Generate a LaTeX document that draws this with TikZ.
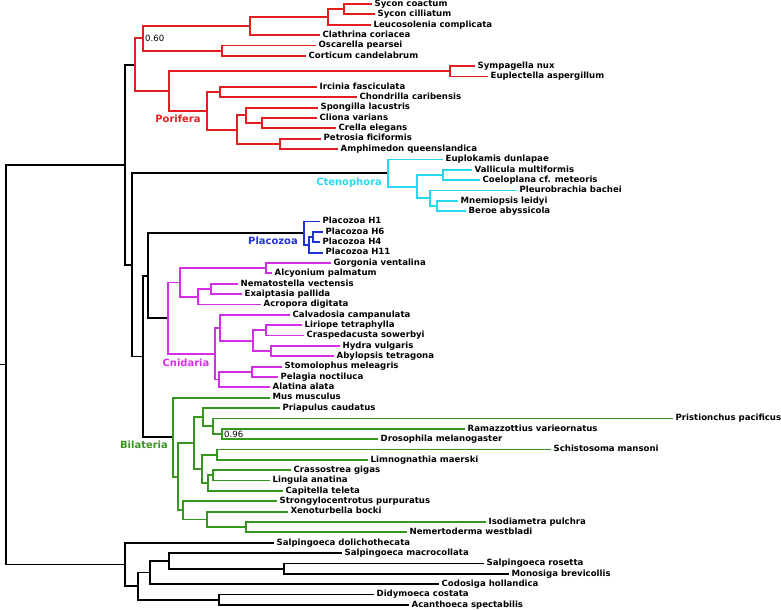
\documentclass[tikz,border=0pt]{standalone}
\usepackage{fontspec}
\setmainfont{DejaVu Sans}
\usepackage{tikz}
\definecolor{cPor}{RGB}{228,30,30}
\definecolor{cCte}{RGB}{40,215,240}
\definecolor{cPla}{RGB}{30,50,215}
\definecolor{cCni}{RGB}{215,45,235}
\definecolor{cBil}{RGB}{55,150,30}
\tikzset{
  br/.style={line width=1.8bp},
  leaf/.style={anchor=west, inner xsep=2.5pt, inner ysep=0pt, text height=6.2pt, text depth=1.6pt,
    font=\fontsize{8.6}{9}\selectfont\bfseries},
  clade/.style={inner sep=0pt, font=\fontsize{10}{12}\selectfont\bfseries},
  supp/.style={anchor=west, inner xsep=2pt, inner ysep=0pt, font=\fontsize{8.6}{9}\selectfont}
}

\begin{document}
\begin{tikzpicture}[x=1bp, y=-10.36bp]

  \useasboundingbox (0,-0.386) rectangle (781,58.49);

  %% leaves, one row each
  \node[leaf] (sycCoa) at (372,0) {Sycon coactum};
  \node[leaf] (sycCil) at (375,1) {Sycon cilliatum};
  \node[leaf] (leuCom) at (371,2) {Leucosolenia complicata};
  \node[leaf] (claCor) at (320,3) {Clathrina coriacea};
  \node[leaf] (oscPea) at (316,4) {Oscarella pearsei};
  \node[leaf] (corCan) at (306,5) {Corticum candelabrum};
  \node[leaf] (symNux) at (475,6) {Sympagella nux};
  \node[leaf] (eupAsp) at (488,7) {Euplectella aspergillum};
  \node[leaf] (ircFas) at (317,8) {Ircinia fasciculata};
  \node[leaf] (choCar) at (357,9) {Chondrilla caribensis};
  \node[leaf] (spoLac) at (318,10) {Spongilla lacustris};
  \node[leaf] (cliVar) at (317,11) {Cliona varians};
  \node[leaf] (creEle) at (336,12) {Crella elegans};
  \node[leaf] (petFic) at (321,13) {Petrosia ficiformis};
  \node[leaf] (ampQue) at (338,14) {Amphimedon queenslandica};
  \node[leaf] (eupDun) at (443,15) {Euplokamis dunlapae};
  \node[leaf] (valMul) at (472,16) {Vallicula multiformis};
  \node[leaf] (coeMet) at (480,17) {Coeloplana cf. meteoris};
  \node[leaf] (pleBac) at (517,18) {Pleurobrachia bachei};
  \node[leaf] (mneLei) at (458,19) {Mnemiopsis leidyi};
  \node[leaf] (berAby) at (466,20) {Beroe abyssicola};
  \node[leaf] (plaHa) at (320,21) {Placozoa H1};
  \node[leaf] (plaHb) at (323,22) {Placozoa H6};
  \node[leaf] (plaHc) at (320,23) {Placozoa H4};
  \node[leaf] (plaHd) at (323,24) {Placozoa H11};
  \node[leaf] (gorVen) at (331,25) {Gorgonia ventalina};
  \node[leaf] (alcPal) at (272,26) {Alcyonium palmatum};
  \node[leaf] (nemVec) at (238,27) {Nematostella vectensis};
  \node[leaf] (exaPal) at (242,28) {Exaiptasia pallida};
  \node[leaf] (acrDig) at (261,29) {Acropora digitata};
  \node[leaf] (calCam) at (290,30) {Calvadosia campanulata};
  \node[leaf] (lirTet) at (302,31) {Liriope tetraphylla};
  \node[leaf] (craSow) at (304,32) {Craspedacusta sowerbyi};
  \node[leaf] (hydVul) at (340,33) {Hydra vulgaris};
  \node[leaf] (abyTet) at (334,34) {Abylopsis tetragona};
  \node[leaf] (stoMel) at (282,35) {Stomolophus meleagris};
  \node[leaf] (pelNoc) at (278,36) {Pelagia noctiluca};
  \node[leaf] (alaAla) at (270,37) {Alatina alata};
  \node[leaf] (musMus) at (270,38) {Mus musculus};
  \node[leaf] (priCau) at (280,39) {Priapulus caudatus};
  \node[leaf] (priPac) at (673,40) {Pristionchus pacificus};
  \node[leaf] (ramVar) at (465,41) {Ramazzottius varieornatus};
  \node[leaf] (droMel) at (378,42) {Drosophila melanogaster};
  \node[leaf] (schMan) at (551,43) {Schistosoma mansoni};
  \node[leaf] (limMae) at (368,44) {Limnognathia maerski};
  \node[leaf] (craGig) at (291,45) {Crassostrea gigas};
  \node[leaf] (linAna) at (270,46) {Lingula anatina};
  \node[leaf] (capTel) at (283,47) {Capitella teleta};
  \node[leaf] (strPur) at (277,48) {Strongylocentrotus purpuratus};
  \node[leaf] (xenBoc) at (288,49) {Xenoturbella bocki};
  \node[leaf] (isoPul) at (486,50) {Isodiametra pulchra};
  \node[leaf] (nemWes) at (407,51) {Nemertoderma westbladi};
  \node[leaf] (salDol) at (274,52) {Salpingoeca dolichothecata};
  \node[leaf] (salMac) at (342,53) {Salpingoeca macrocollata};
  \node[leaf] (salRos) at (484,54) {Salpingoeca rosetta};
  \node[leaf] (monBre) at (509,55) {Monosiga brevicollis};
  \node[leaf] (codHol) at (439,56) {Codosiga hollandica};
  \node[leaf] (didCos) at (374,57) {Didymoeca costata};
  \node[leaf] (acaSpe) at (409,58) {Acanthoeca spectabilis};

  %% inner nodes: Porifera
  \coordinate (syc) at (344,0.5);
  \coordinate (sycleu) at (328,1.25);
  \coordinate (calc) at (250,2.125);
  \coordinate (homo) at (222,4.5);
  \coordinate (calho) at (143,3.3125);
  \coordinate (hexa) at (450,6.5);
  \coordinate (ircho) at (220,8.5);
  \coordinate (clicre) at (262,11.5);
  \coordinate (spocli) at (246,10.75);
  \coordinate (petamp) at (280,13.5);
  \coordinate (demB) at (237,12.125);
  \coordinate (demo) at (207,10.3125);
  \coordinate (hexdem) at (169,8.40625);
  \coordinate (por) at (135,5.859375);
  %% Ctenophora
  \coordinate (valcoe) at (443,16.5);
  \coordinate (mnebe) at (437,19.5);
  \coordinate (plemb) at (430,18.75);
  \coordinate (cteB) at (417,17.625);
  \coordinate (cte) at (388,16.3125);
  %% Placozoa
  \coordinate (hbc) at (313,22.5);
  \coordinate (hbcd) at (309,23.25);
  \coordinate (pla) at (304,22.125);
  %% Cnidaria
  \coordinate (octo) at (266,25.5);
  \coordinate (nemexa) at (211,27.5);
  \coordinate (hexc) at (198,28.25);
  \coordinate (antho) at (180,26.875);
  \coordinate (lircra) at (266,31.5);
  \coordinate (hydaby) at (271,33.5);
  \coordinate (hydro) at (253,32.5);
  \coordinate (stauhy) at (220,31.25);
  \coordinate (scy) at (252,35.5);
  \coordinate (scycub) at (219,36.25);
  \coordinate (medu) at (215,33.75);
  \coordinate (cni) at (168,30.3125);
  %% Bilateria
  \coordinate (ramdro) at (222,41.5);
  \coordinate (nema) at (213,40.75);
  \coordinate (ecdy) at (203,39.875);
  \coordinate (schlim) at (217,43.5);
  \coordinate (cralin) at (213,45.5);
  \coordinate (moll) at (208,46.25);
  \coordinate (spir) at (202,44.875);
  \coordinate (prot) at (194,42.375);
  \coordinate (acoel) at (246,50.5);
  \coordinate (xenac) at (207,49.75);
  \coordinate (deut) at (183,48.875);
  \coordinate (nephr) at (178,45.625);
  \coordinate (bil) at (173,41.8125);
  %% backbone
  \coordinate (plcn) at (148,26.21875);
  \coordinate (pcb) at (143,34.015625);
  \coordinate (ctrest) at (132,25.1640625);
  \coordinate (meta) at (125,15.51171875);
  %% choanoflagellates
  \coordinate (rosmon) at (284,54.5);
  \coordinate (macro) at (169,53.75);
  \coordinate (codo) at (150,54.875);
  \coordinate (didaca) at (219,57.5);
  \coordinate (choB) at (138,56.1875);
  \coordinate (choa) at (125,54.09375);
  \coordinate (root) at (6,34.8027);
  \coordinate (stub) at (0,34.8027);

  %% black part
  \draw[br] (stub) -- (root);
  \draw[br] (root) |- (meta) (root) |- (choa);
  \draw[br] (meta) |- (por) (meta) |- (ctrest);
  \draw[br] (ctrest) |- (cte) (ctrest) |- (pcb);
  \draw[br] (pcb) |- (plcn) (pcb) |- (bil);
  \draw[br] (plcn) |- (pla) (plcn) |- (cni);
  \draw[br] (choa) |- (salDol.west) (choa) |- (choB);
  \draw[br] (choB) |- (codo) (choB) |- (didaca);
  \draw[br] (codo) |- (macro) (codo) |- (codHol.west);
  \draw[br] (macro) |- (salMac.west) (macro) |- (rosmon);
  \draw[br] (rosmon) |- (salRos.west) (rosmon) |- (monBre.west);
  \draw[br] (didaca) |- (didCos.west) (didaca) |- (acaSpe.west);

  %% Porifera
  \draw[br, cPor] (por) |- (calho) (por) |- (hexdem);
  \draw[br, cPor] (calho) |- (calc) (calho) |- (homo);
  \draw[br, cPor] (calc) |- (sycleu) (calc) |- (claCor.west);
  \draw[br, cPor] (sycleu) |- (syc) (sycleu) |- (leuCom.west);
  \draw[br, cPor] (syc) |- (sycCoa.west) (syc) |- (sycCil.west);
  \draw[br, cPor] (homo) |- (oscPea.west) (homo) |- (corCan.west);
  \draw[br, cPor] (hexdem) |- (hexa) (hexdem) |- (demo);
  \draw[br, cPor] (hexa) |- (symNux.west) (hexa) |- (eupAsp.west);
  \draw[br, cPor] (demo) |- (ircho) (demo) |- (demB);
  \draw[br, cPor] (ircho) |- (ircFas.west) (ircho) |- (choCar.west);
  \draw[br, cPor] (demB) |- (spocli) (demB) |- (petamp);
  \draw[br, cPor] (spocli) |- (spoLac.west) (spocli) |- (clicre);
  \draw[br, cPor] (clicre) |- (cliVar.west) (clicre) |- (creEle.west);
  \draw[br, cPor] (petamp) |- (petFic.west) (petamp) |- (ampQue.west);
  \node[supp] (suppPor) at (calho) {0.60};
  \node[clade, cPor] (labPor) at (178,11.1) {Porifera};

  %% Ctenophora
  \draw[br, cCte] (cte) |- (eupDun.west) (cte) |- (cteB);
  \draw[br, cCte] (cteB) |- (valcoe) (cteB) |- (plemb);
  \draw[br, cCte] (valcoe) |- (valMul.west) (valcoe) |- (coeMet.west);
  \draw[br, cCte] (plemb) |- (pleBac.west) (plemb) |- (mnebe);
  \draw[br, cCte] (mnebe) |- (mneLei.west) (mnebe) |- (berAby.west);
  \node[clade, cCte] (labCte) at (349,17.28) {Ctenophora};

  %% Placozoa
  \draw[br, cPla] (pla) |- (plaHa.west) (pla) |- (hbcd);
  \draw[br, cPla] (hbcd) |- (hbc) (hbcd) |- (plaHd.west);
  \draw[br, cPla] (hbc) |- (plaHb.west) (hbc) |- (plaHc.west);
  \node[clade, cPla] (labPla) at (273,22.88) {Placozoa};

  %% Cnidaria
  \draw[br, cCni] (cni) |- (antho) (cni) |- (medu);
  \draw[br, cCni] (antho) |- (octo) (antho) |- (hexc);
  \draw[br, cCni] (octo) |- (gorVen.west) (octo) |- (alcPal.west);
  \draw[br, cCni] (hexc) |- (nemexa) (hexc) |- (acrDig.west);
  \draw[br, cCni] (nemexa) |- (nemVec.west) (nemexa) |- (exaPal.west);
  \draw[br, cCni] (medu) |- (stauhy) (medu) |- (scycub);
  \draw[br, cCni] (stauhy) |- (calCam.west) (stauhy) |- (hydro);
  \draw[br, cCni] (hydro) |- (lircra) (hydro) |- (hydaby);
  \draw[br, cCni] (lircra) |- (lirTet.west) (lircra) |- (craSow.west);
  \draw[br, cCni] (hydaby) |- (hydVul.west) (hydaby) |- (abyTet.west);
  \draw[br, cCni] (scycub) |- (scy) (scycub) |- (alaAla.west);
  \draw[br, cCni] (scy) |- (stoMel.west) (scy) |- (pelNoc.west);
  \node[clade, cCni] (labCni) at (186,34.65) {Cnidaria};

  %% Bilateria
  \draw[br, cBil] (bil) |- (musMus.west) (bil) |- (nephr);
  \draw[br, cBil] (nephr) |- (prot) (nephr) |- (deut);
  \draw[br, cBil] (prot) |- (ecdy) (prot) |- (spir);
  \draw[br, cBil] (ecdy) |- (priCau.west) (ecdy) |- (nema);
  \draw[br, cBil] (nema) |- (priPac.west) (nema) |- (ramdro);
  \draw[br, cBil] (ramdro) |- (ramVar.west) (ramdro) |- (droMel.west);
  \draw[br, cBil] (spir) |- (schlim) (spir) |- (moll);
  \draw[br, cBil] (schlim) |- (schMan.west) (schlim) |- (limMae.west);
  \draw[br, cBil] (moll) |- (cralin) (moll) |- (capTel.west);
  \draw[br, cBil] (cralin) |- (craGig.west) (cralin) |- (linAna.west);
  \draw[br, cBil] (deut) |- (strPur.west) (deut) |- (xenac);
  \draw[br, cBil] (xenac) |- (xenBoc.west) (xenac) |- (acoel);
  \draw[br, cBil] (acoel) |- (isoPul.west) (acoel) |- (nemWes.west);
  \node[supp] (suppBil) at (ramdro) {0.96};
  \node[clade, cBil] (labBil) at (144,42.57) {Bilateria};

\end{tikzpicture}
\end{document}
